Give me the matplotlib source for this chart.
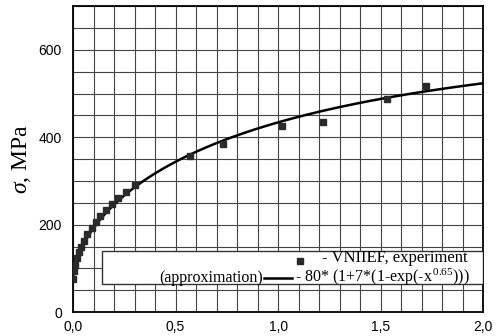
import matplotlib
matplotlib.use("Agg")
import matplotlib.pyplot as plt
import numpy as np
from matplotlib.patches import Rectangle
from matplotlib.lines import Line2D

plt.rcParams["mathtext.fontset"] = "custom"
plt.rcParams["mathtext.rm"] = "Liberation Serif"
plt.rcParams["mathtext.it"] = "Liberation Serif:italic"

# === Data ===
x_exp = [0.0, 0.005, 0.01, 0.02, 0.03, 0.04, 0.055, 0.07, 0.09, 0.11, 0.13,
         0.16, 0.19, 0.22, 0.26, 0.30, 0.57, 0.73, 1.02, 1.22, 1.53, 1.72]
y_exp = [75, 95, 108, 124, 138, 148, 163, 178, 193, 206, 220,
         234, 248, 260, 274, 290, 356, 384, 425, 434, 487, 517]

x_fit = np.linspace(0, 2.0, 400)
y_fit = 80 * (1 + 7 * (1 - np.exp(-x_fit ** 0.65)))

xticks = [0.0, 0.5, 1.0, 1.5, 2.0]
xtick_labels = ["0,0", "0,5", "1,0", "1,5", "2,0"]
yticks = [0, 200, 400, 600]

# === Plotting ===
fig = plt.figure(figsize=(4.97, 3.36), dpi=100)
ax = fig.add_axes([0.147, 0.071, 0.825, 0.911])

ax.set_xlim(0, 2.0)
ax.set_ylim(0, 700)
ax.set_xticks(np.arange(0, 2.01, 0.1), minor=True)
ax.set_yticks(np.arange(0, 701, 50), minor=True)
ax.set_xticks(xticks)
ax.set_xticklabels(xtick_labels)
ax.set_yticks(yticks)
ax.grid(which="both", color="#444444", linewidth=0.8)
ax.set_axisbelow(True)
ax.tick_params(which="both", length=0, labelsize=10)
ax.tick_params(axis="x", pad=6)
ax.tick_params(axis="y", pad=8)
for lab in ax.get_xticklabels() + ax.get_yticklabels():
    lab.set_family("Liberation Sans")
for s in ax.spines.values():
    s.set_linewidth(1.3)

ax.plot(x_fit, y_fit, color="black", linewidth=1.8, zorder=3)
ax.plot(x_exp, y_exp, linestyle="none", marker="s", markersize=4.5,
        color="#2a2a2a", zorder=4)

ax.set_ylabel(r"$\sigma$, MPa", family="Liberation Serif", fontsize=17, labelpad=4)

# legend box (drawn by hand to match the layout)
ax.add_patch(Rectangle((0.071, 0.093), 0.929, 0.106, transform=ax.transAxes,
                       facecolor="white", edgecolor="#333333", linewidth=1.0,
                       zorder=5))
ax.add_line(Line2D([0.554], [0.168], transform=ax.transAxes, marker="s",
                   markersize=4, color="#2a2a2a", zorder=6))
ax.text(0.607, 0.163, "- VNIIEF, experiment", transform=ax.transAxes,
        family="Liberation Serif", fontsize=12, va="baseline", ha="left", zorder=6)
ax.text(0.463, 0.097, "(approximation)", transform=ax.transAxes,
        family="Liberation Serif", fontsize=11.5, va="baseline", ha="right", zorder=6)
ax.add_line(Line2D([0.466, 0.534], [0.110, 0.110], transform=ax.transAxes,
                   color="black", linewidth=1.8, zorder=6))
ax.text(0.541, 0.097, r"- 80* (1+7*(1-exp(-x$^{\,\mathrm{0.65}}$)))",
        transform=ax.transAxes, family="Liberation Serif", fontsize=11.5,
        va="baseline", ha="left", zorder=6)

fig.savefig("out.png", dpi=100)
